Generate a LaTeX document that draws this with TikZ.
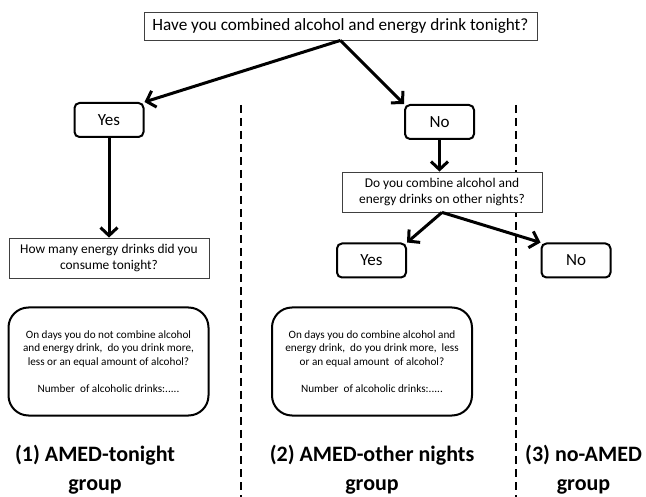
\documentclass[tikz,border=0pt]{standalone}
\usepackage{fontspec}
\setmainfont{Carlito}
\usetikzlibrary{arrows.meta,positioning,calc}

\begin{document}
\begin{tikzpicture}[
  x=1pt, y=-1pt,
  >={Straight Barb[length=8pt,width=17pt]},
  qbox/.style={draw=black!75, line width=0.8pt, fill=white, align=center, inner sep=0pt},
  ansbox/.style={draw, line width=2pt, rounded corners=5pt, fill=white, font=\fontsize{17}{20}\selectfont, minimum width=69pt, minimum height=34pt, inner sep=0pt},
  infobox/.style={draw, line width=2pt, rounded corners=20pt, align=center, font=\fontsize{11.2}{13.5}\selectfont, minimum width=200pt, minimum height=108pt, inner sep=0pt},
  grp/.style={align=center, font=\bfseries\fontsize{22}{29}\selectfont},
  arr/.style={->, line width=3pt},
  sep/.style={line width=2pt, dash pattern=on 8pt off 5pt}]
  \useasboundingbox (0,0) rectangle (646,497);
  % group borders
  \draw[sep] (241,105) -- (241,497);
  \draw[sep] (516,105) -- (516,497);
  \node[qbox, minimum width=393pt, minimum height=28pt, font=\fontsize{17.2}{20}\selectfont] (q1) at (340.5,26) {Have you combined alcohol and energy drink tonight?};
  \node[ansbox] (yes1) at (109,120) {Yes};
  \node[ansbox] (no1) at (439.5,122) {No};
  \node[qbox, minimum width=200pt, minimum height=40pt, font=\fontsize{13.4}{16.5}\selectfont] (howmany) at (109,258) {How many energy drinks did you\\ consume tonight?};
  \node[qbox, minimum width=200pt, minimum height=40pt, font=\fontsize{13.4}{16.5}\selectfont] (other) at (442,192) {Do you combine alcohol and\\ energy drinks on other nights?};
  \node[ansbox] (yes2) at (371.5,260.5) {Yes};
  \node[ansbox] (no2) at (576,260.5) {No};
  \node[infobox] (info1) at (108.5,361.5) {On days you do not combine alcohol\\ and energy drink,\ \ do you drink more,\\ less or an equal amount of alcohol?\\[13.5pt] Number\ \ of alcoholic drinks:.....};
  \node[infobox] (info2) at (372,361.5) {On days you do combine alcohol and\\ energy drink,\ \ do you drink more,\ \ less\\ or an equal amount\ \ of alcohol?\\[13.5pt] Number\ \ of alcoholic drinks:.....};
  \node[grp] (grp1) at (95,470) {(1) AMED-tonight\\ group};
  \node[grp] (grp2) at (372,470) {(2) AMED-other nights\\ group};
  \node[grp] (grp3) at (583.5,470) {(3) no-AMED\\ group};
  \draw[arr] (q1.south) -- (yes1.north east);
  \draw[arr] (q1.south) -- (no1.north west);
  \draw[arr] (yes1) -- (howmany);
  \draw[arr] (no1.south) -- (no1.south |- other.north);
  \draw[arr] (other.south) -- (yes2.north east);
  \draw[arr] (other.south) -- (no2.north west);
\end{tikzpicture}
\end{document}
